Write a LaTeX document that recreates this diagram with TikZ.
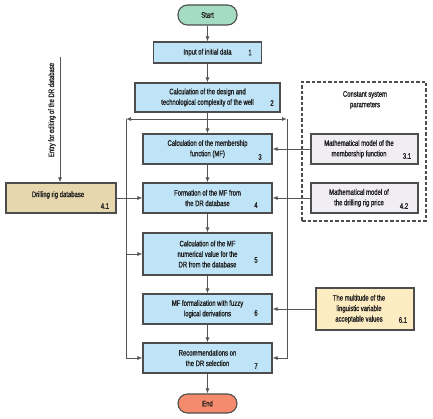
\documentclass[tikz,border=0pt]{standalone}
\usepackage{fontspec}
\setmainfont{Liberation Sans}[FakeStretch=0.74, FakeBold=1.3]
\usetikzlibrary{arrows.meta}
\definecolor{blueF}{HTML}{BFE4F7}
\definecolor{boxline}{HTML}{4D4D4D}
\definecolor{linec}{HTML}{555555}
\definecolor{startF}{HTML}{A3DCC3}
\definecolor{endF}{HTML}{F58B6C}
\definecolor{dbF}{HTML}{E6D7AE}
\definecolor{yelF}{HTML}{FDEBC1}
\definecolor{lavF}{HTML}{F0EDF3}
\definecolor{txt}{HTML}{222222}
\begin{document}
\begin{tikzpicture}[x=1pt,y=-1pt,
  font=\fontsize{8}{10.5}\selectfont, text=txt,
  ln/.style={draw=linec, line width=0.9pt},
  arr/.style={ln, -{Latex[length=5pt,width=4pt]}},
  frame/.style={draw=boxline, line width=1.1pt, align=center, inner sep=0pt},
  box/.style={frame, fill=blueF, minimum width=129pt, minimum height=30pt},
  term/.style={frame, minimum width=59pt, minimum height=20pt, rounded corners=9.5pt},
  side/.style={frame, fill=lavF, minimum width=107pt, minimum height=30pt},
  num/.style={inner sep=0pt},
  plain/.style={inner sep=0pt, align=center}]
\useasboundingbox (0,0) rectangle (433,419);

% main column
\node[term, fill=startF] (start) at (207.5,15) {Start};
\node[box, minimum width=108pt, minimum height=21pt] (b1) at (207.5,52.5) {Input of initial data};
\node[box, minimum width=145pt, minimum height=29pt] (b2) at (207.5,97.5) {Calculation of the design and\\technological complexity of the well};
\node[box] (b3) at (207.5,149) {Calculation of the membership\\function (MF)};
\node[box] (b4) at (207.5,198) {Formation of the MF from\\the DR database};
\node[box, minimum height=42pt] (b5) at (207.5,254) {Calculation of the MF\\numerical value for the\\DR from the database};
\node[box] (b6) at (207.5,309) {MF formalization with fuzzy\\logical derivations};
\node[box] (b7) at (207.5,358) {Recommendations on\\the DR selection};
\node[term, fill=endF, minimum height=19pt] (end) at (207.5,403.5) {End};

% numbers
\node[num] (n1) at (250,52.5) {1};
\node[num] (n2) at (272,103) {2};
\node[num] (n3) at (260,157) {3};
\node[num] (n4) at (256,205) {4};
\node[num] (n5) at (256,260) {5};
\node[num] (n6) at (256,313) {6};
\node[num] (n7) at (256,366) {7};

% left database
\node[frame, fill=dbF, minimum width=110pt, minimum height=30pt] (db) at (61,198) {};
\node[plain] (dbt) at (58,195) {Drilling rig database};
\node[num] (n41) at (105,206) {4.1};
\coordinate (etop) at (60,57);
\node[plain, rotate=90] (etxt) at (52,110) {Entry for editing of the DR database};

% constant parameters
\node[draw=boxline, line width=1.1pt, dash pattern=on 3.5pt off 2pt, minimum width=124pt, minimum height=139pt, inner sep=0pt] (cp) at (364,151.5) {};
\node[plain] (cpt) at (365,100) {Constant system\\parameters};
\node[side] (m31) at (364.5,149) {};
\node[plain] (t31) at (359,149) {Mathematical model of the\\membership function};
\node[num] (n31) at (407,156) {3.1};
\node[side] (m42) at (364.5,198) {};
\node[plain] (t42) at (359,198) {Mathematical model of\\the drilling rig price};
\node[num] (n42) at (404,206) {4.2};

\node[frame, fill=yelF, minimum width=98pt, minimum height=42pt] (m61) at (365,309) {};
\node[plain] (t61) at (359,309) {The multitude of the\\linguistic variable\\acceptable values};
\node[num] (n61) at (403,320) {6.1};

% loop coordinates
\coordinate (j) at (207.5,119);
\coordinate (lt) at (126,119);
\coordinate (rt) at (287,119);
\coordinate (l5) at (126,254);

% connectors
\draw[arr] (start) -- (b1);
\draw[arr] (b1) -- (b2);
\draw[arr] (b2) -- (b3);
\draw[arr] (b3) -- (b4);
\draw[arr] (b4) -- (b5);
\draw[arr] (b5) -- (b6);
\draw[arr] (b6) -- (b7);
\draw[arr] (b7) -- (end);

\draw[arr] (j) -- (lt);
\draw[arr] (j) -- (rt);
\draw[arr] (lt) |- (b7.west);
\draw[arr] (rt) |- (b7.east);
\draw[arr] (l5) -- (b5.west);

\draw[arr] (db) -- (b4);
\draw[arr] (etop) -- (etop |- db.north);

\draw[arr] (m31) -- (b3);
\draw[arr] (m42) -- (b4);
\draw[arr] (m61) -- (b6);
\end{tikzpicture}
\end{document}
